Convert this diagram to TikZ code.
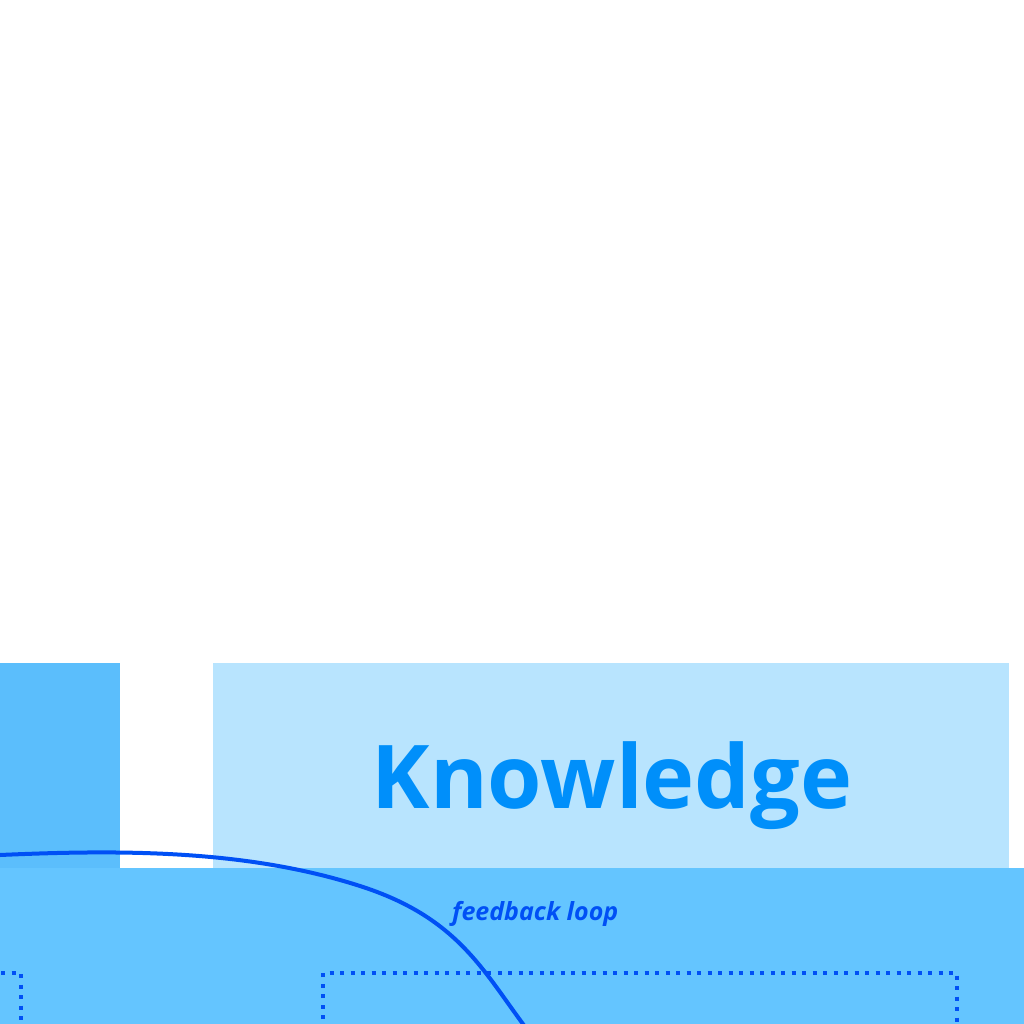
\documentclass[tikz,border=0pt]{standalone}
\usepackage{fontspec}
\setmainfont{Open Sans}
\definecolor{blockA}{RGB}{91,190,252}
\definecolor{blockB}{RGB}{184,228,254}
\definecolor{blockC}{RGB}{100,197,255}
\definecolor{titleblue}{RGB}{0,143,250}
\definecolor{loopblue}{RGB}{0,80,245}
\begin{document}
\begin{tikzpicture}[x=1pt,y=-1pt,
  panel/.style={fill=#1, draw=none},
  dotbox/.style={draw=loopblue, line width=4pt, dash pattern=on 4pt off 6.5pt},
  looparc/.style={draw=loopblue, line width=4pt}]
\useasboundingbox (0,0) rectangle (1024,1024);
\clip (0,0) rectangle (1024,1024);
\fill[white] (0,0) rectangle (1024,1024);
% panels
\path[panel=blockA] (0,663) rectangle (120,868);
\path[panel=blockB] (213,663) rectangle (1009,868);
\path[panel=blockC] (0,868) rectangle (1024,1024);
\node[anchor=base, text=titleblue, font=\fontsize{88}{88}\selectfont\bfseries, inner sep=0pt] (know) at (612,808) {Knowledge};
% dotted boxes
\draw[dotbox] (-20,973) -- (21,973) -- (21,1040);
\draw[dotbox] (323,1040) -- (323,973) -- (957,973) -- (957,1040);
% feedback loop curve
\coordinate (loopin) at (-20,856);
\coordinate (loopmid) at (360,886);
\coordinate (loopout) at (535,1040);
\draw[looparc] (loopin) -- (0,855) .. controls (120,849.7) and (246,849.4) .. (loopmid)
   .. controls (455.2,916.5) and (481.4,967.7) .. (523,1024) -- (loopout);
\node[anchor=base west, text=loopblue, font=\fontsize{25}{25}\selectfont\bfseries\itshape, inner sep=0pt] (fb) at (452,920) {feedback loop};
\end{tikzpicture}
\end{document}
